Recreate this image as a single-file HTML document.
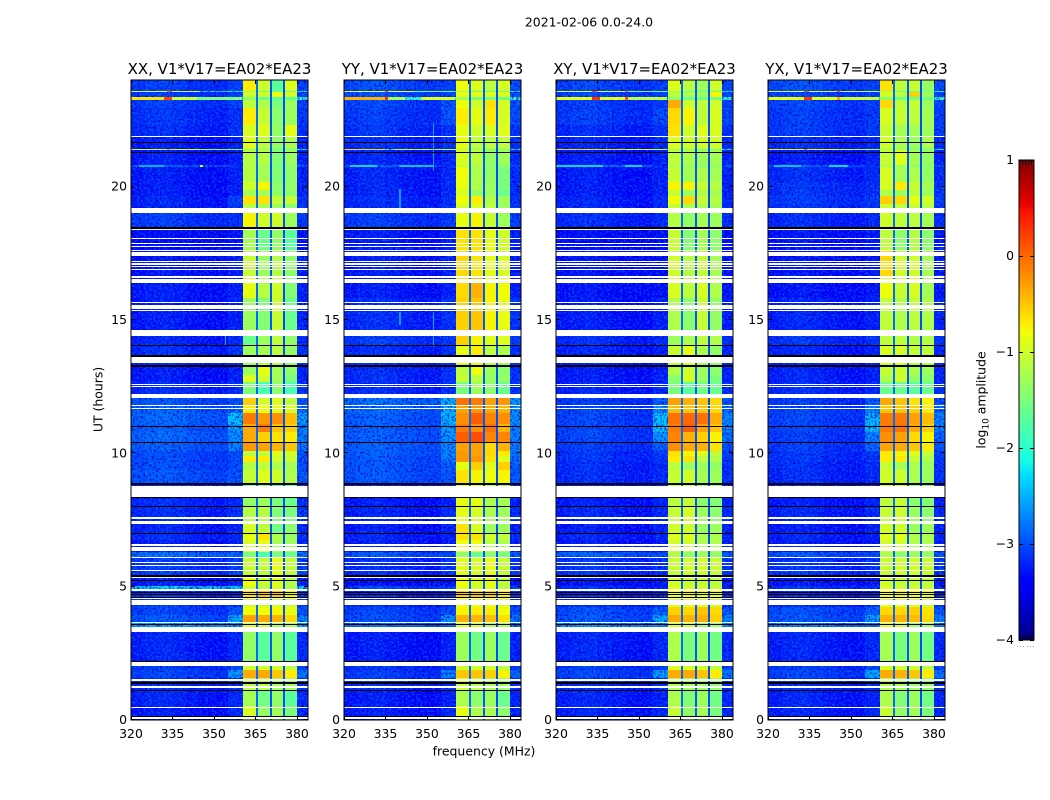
<!DOCTYPE html>
<html lang="en">
<head>
<meta charset="utf-8">
<title>2021-02-06 dynamic spectra</title>
<style>
html,body{margin:0;padding:0;background:#fff}
svg{display:block}
text{font-family:"DejaVu Sans","Liberation Sans",sans-serif;fill:#000}
</style>
</head>
<body>
<svg id="figure" xmlns="http://www.w3.org/2000/svg" width="1050" height="800" viewBox="0 0 1050 800">
  <defs>
    <filter id="speck-dark" x="0" y="0" width="1" height="1" color-interpolation-filters="sRGB">
      <feTurbulence type="fractalNoise" baseFrequency="0.48" numOctaves="2" seed="3"/>
      <feColorMatrix type="matrix" values="0 0 0 0 0  0 0 0 0 0  0 0 0 0 0.8  -8 0 0 0 3.9"/>
    </filter>
    <filter id="speck-light" x="0" y="0" width="1" height="1" color-interpolation-filters="sRGB">
      <feTurbulence type="fractalNoise" baseFrequency="0.48" numOctaves="2" seed="11"/>
      <feColorMatrix type="matrix" values="0 0 0 0 0  0 0 0 0 0.5  0 0 0 0 1  8 0 0 0 -4.1"/>
    </filter>
  </defs>
  <text x="589" y="26.5" font-size="12.45" text-anchor="middle">2021-02-06 0.0-24.0</text>
  <text x="484" y="755.5" font-size="12.45" text-anchor="middle">frequency (MHz)</text>
  <text x="0" y="0" font-size="12.45" text-anchor="middle" transform="translate(102.5,399.5) rotate(-90)">UT (hours)</text>
  <text x="0" y="0" font-size="12.45" text-anchor="middle" transform="translate(985.5,400) rotate(-90)">log<tspan font-size="9" dy="3">10</tspan><tspan dy="-3"> amplitude</tspan></text>
  <g id="panels"></g>
  <g id="colorbar"></g>
</svg>
<script>
// ---- axes ----
const xTickLabels = [320, 335, 350, 365, 380];
const yTickLabels = [0, 5, 10, 15, 20];
const colorbarTicks = [1, 0, -1, -2, -3, -4];
const colorbarMinorTicks = [0.15, 0.35, 0.55, 0.75];

// ---- heatmap frequency bins (MHz) ----
const freqEdges = [320,325,330,335,340,345,350,355,360.6,365.1,365.9,370.2,370.9,374.8,375.6,379.9,384];
const lowProfile = [-0.12,-0.06,-0.03,-0.08,-0.14,-0.18,-0.2];
const nearBandOffset = -0.15;
const gapLevels = [-2.85,-2.95,-3.0];

// ---- heatmap time rows (UT hours, top to bottom) ----
const utEdges = [24,23.59,23.55,23.36,23.25,22.95,22.31,21.90,21.41,21.38,20.81,20.74,20.18,19.88,19.65,19.35,19.01,18.45,17.63,16.61,15.83,14.63,14.06,13.35,12.94,12.68,12.08,11.81,11.51,11.10,10.80,10.43,10.09,9.90,9.68,9.38,8.85,8.03,7.35,7.01,6.75,6.30,6.08,5.44,5.03,4.91,4.54,4.24,3.94,3.68,3.30,2.18,1.88,1.58,1.13,0.53,0];

// per row: [background, near-band, band1, band2, band3, band4] in log10 amplitude
const xxLevels = [
[-3.0,-2.9,-0.7,-1.0,-1.7,-0.9],[-2.0,-2.0,-1.3,-1.6,-1.6,-1.6],[-3.0,-2.9,-1.0,-1.0,-0.8,-0.95],[-1.9,-1.8,-1.4,-1.6,-1.7,-1.7],
[-3.0,-2.9,-1.1,-1.2,-1.5,-1.3],[-3.05,-3,-0.7,-1.05,-1.4,-1.3],[-3.1,-3,-0.95,-0.9,-1.35,-0.85],[-3.2,-3.1,-0.9,-1.1,-1.35,-1.2],
[-1.9,-1.9,-1.4,-1.4,-1.6,-1.6],[-3.2,-3.1,-1.15,-1.15,-1.45,-1.3],[-2.8,-3,-1.2,-1.3,-1.5,-1.4],[-3.2,-3.1,-1.15,-1.25,-1.45,-1.4],
[-3.2,-3.1,-1.0,-0.75,-1.4,-1.35],[-3.2,-3.1,-1.25,-1.25,-1.35,-1.4],[-3.15,-2.9,-0.65,-0.65,-1.05,-1.05],[-3.15,-3,-1.1,-1.25,-1.3,-1.4],
[-3.0,-3.0,-0.75,-1.0,-1.0,-1.3],[-3.3,-3.2,-1.25,-1.6,-1.35,-1.7],[-3.25,-3.1,-1.05,-1.3,-1.15,-1.4],[-3.2,-3.1,-0.85,-1.15,-1.0,-1.45],
[-3.2,-3.1,-1.3,-1.45,-1.05,-1.6],[-3.15,-3.05,-1.6,-1.3,-1.1,-1.35],[-3.1,-3.0,-1.3,-1.25,-1.1,-1.35],[-3.2,-3.1,-1.3,-0.85,-1.25,-1.4],
[-3.2,-3.1,-0.9,-1.0,-1.25,-1.5],[-3.1,-3.0,-1.5,-1.8,-1.4,-1.8],[-2.85,-2.8,-0.55,-0.95,-0.9,-1.1],[-2.8,-2.7,-0.7,-0.85,-0.85,-0.95],
[-2.75,-2.2,-0.1,-0.25,-0.2,-0.45],[-2.8,-2.4,-0.35,-0.1,-0.5,-0.55],[-2.75,-2.5,-0.35,-0.55,-0.65,-0.7],[-2.8,-2.55,-0.25,-0.3,-0.4,-0.5],
[-2.9,-2.85,-1.1,-1.1,-0.9,-0.95],[-2.9,-2.85,-0.7,-0.7,-1.0,-1.05],[-2.9,-2.85,-1.15,-1.1,-1.2,-1.25],[-2.85,-2.8,-1.05,-0.9,-1.0,-1.2],
[-3.1,-3.05,-1.35,-1.3,-1.5,-1.6],[-3.1,-3,-1.15,-1.15,-1.45,-1.5],[-3.15,-3.1,-0.95,-1.1,-1.55,-1.4],[-3.1,-3.05,-0.85,-0.65,-1.2,-1.3],
[-3.2,-3.1,-0.95,-0.85,-1.25,-1.3],[-2.7,-2.7,-1.5,-1.8,-1.5,-1.6],[-3.0,-2.9,-1.05,-1.1,-0.85,-1.1],[-3.2,-3.1,-0.8,-1.05,-0.9,-1.15],
[-2.2,-2.2,-1.0,-1.1,-0.9,-1.2],[-3.05,-3,-0.65,-0.5,-0.5,-0.75],[-3,-3,-1,-1,-1,-1],[-2.95,-2.8,-0.8,-0.8,-0.75,-0.85],
[-2.85,-2.35,-0.3,-0.35,-0.4,-0.6],[-2.4,-2.4,-0.9,-1,-1.2,-1.2],[-3.15,-3.05,-1.35,-1.7,-1.35,-1.7],[-3.0,-2.9,-1,-1,-1,-1.1],
[-2.95,-2.4,-0.35,-0.35,-0.5,-0.7],[-3.1,-3,-1.1,-1.15,-1.25,-1.3],[-3.15,-3.05,-1.25,-1.55,-1.35,-1.7],[-3.2,-3.05,-0.95,-1.35,-1.25,-1.5]
];
const yyLevels = [
[-2.9,-2.9,-0.8,-0.9,-1.1,-0.95],[-1.9,-1.9,-1.3,-1.6,-1.6,-1.6],[-2.9,-2.9,-0.85,-0.85,-0.9,-0.9],[-1.8,-1.8,-1.3,-1.5,-1.6,-1.6],
[-2.95,-2.8,-0.8,-1.0,-0.65,-0.95],[-3,-2.8,-0.7,-0.85,-0.7,-0.95],[-3.05,-3,-0.85,-1.0,-0.95,-0.9],[-3.1,-3.0,-0.85,-1.1,-1.1,-1.1],
[-1.9,-1.9,-1.3,-1.4,-1.5,-1.5],[-3.15,-3.05,-0.95,-1.1,-1.35,-1.3],[-2.8,-3,-1.1,-1.2,-1.4,-1.4],[-3.15,-3.05,-0.8,-1.2,-1.35,-1.5],
[-3.15,-3.05,-0.85,-1.2,-1.3,-1.5],[-3.15,-3.05,-0.95,-1.35,-1.3,-1.6],[-3.1,-3,-0.8,-0.7,-1.15,-1.3],[-3.1,-3,-0.95,-0.9,-1.1,-1.3],
[-3.0,-2.95,-0.85,-0.75,-1.05,-1.3],[-3.2,-3.1,-0.65,-0.65,-0.85,-1.0],[-3.2,-3.1,-0.6,-0.65,-0.85,-0.95],[-3.2,-3.1,-0.6,-0.4,-0.75,-0.8],
[-3.1,-3.0,-0.55,-0.5,-0.75,-0.85],[-3.0,-2.95,-0.55,-0.75,-0.9,-0.9],[-3.1,-3.0,-0.85,-0.7,-1.1,-1.2],[-3.1,-3,-1.1,-0.8,-1.3,-1.4],
[-3.1,-3,-1.05,-1.1,-1.35,-1.35],[-3.1,-3,-1.5,-1.3,-1.4,-1.6],[-2.7,-2.3,-0.05,-0.1,-0.3,-0.25],[-2.75,-2.3,-0.3,-0.25,-0.35,-0.4],
[-2.8,-2.3,-0.2,0.05,-0.15,-0.2],[-2.8,-2.4,-0.1,-0.2,-0.05,-0.4],[-2.8,-2.45,0.05,0.15,-0.15,-0.15],[-2.8,-2.5,-0.3,-0.3,-0.6,-0.4],
[-2.8,-2.55,-0.25,-0.3,-0.6,-0.7],[-2.85,-2.6,-0.25,-0.25,-0.65,-0.9],[-2.85,-2.75,-0.85,-0.55,-0.9,-0.55],[-2.85,-2.8,-0.65,-0.75,-0.8,-0.75],
[-3.2,-3.1,-0.85,-0.85,-1.2,-1.25],[-3.15,-3.05,-0.85,-0.95,-1.2,-1.3],[-3.2,-3.1,-0.65,-0.95,-1.3,-1.3],[-3.15,-3.1,-0.65,-0.65,-1,-1.1],
[-3.2,-3.15,-0.8,-0.8,-1.1,-1.2],[-2.85,-2.85,-1.35,-1.6,-1.4,-1.5],[-3.1,-3,-0.9,-0.95,-0.85,-1.05],[-3.3,-3.2,-0.8,-0.95,-0.85,-1.1],
[-2.95,-2.95,-0.85,-1.0,-0.9,-1.1],[-3.1,-3,-0.55,-0.5,-0.55,-0.7],[-3.1,-3,-0.8,-0.8,-0.8,-0.9],[-2.95,-2.85,-0.75,-0.7,-0.7,-0.8],
[-2.9,-2.5,-0.4,-0.4,-0.45,-0.65],[-2.7,-2.7,-0.9,-1,-1.2,-1.2],[-3.2,-3.1,-1.3,-1.55,-1.3,-1.6],[-3.05,-3,-1,-1,-1,-1.1],
[-3,-2.55,-0.5,-0.5,-0.55,-0.75],[-3.1,-3,-1,-1.1,-1.2,-1.3],[-3.2,-3.1,-1.2,-1.4,-1.3,-1.6],[-3.2,-3.05,-0.85,-1.2,-1.2,-1.4]
];
const xyLevels = [
[-2.95,-2.9,-0.9,-1.1,-1.3,-1.0],[-1.9,-1.9,-1.3,-1.6,-1.6,-1.6],[-2.95,-2.9,-1.1,-1.2,-1.3,-0.75],[-1.8,-1.8,-1.4,-1.6,-1.6,-1.6],
[-3,-2.95,-0.35,-1.0,-1.1,-1.0],[-3,-2.85,-0.6,-0.75,-1.1,-0.95],[-3.1,-3,-0.65,-1,-0.9,-0.95],[-3.15,-3.05,-0.9,-1,-1,-1],
[-1.9,-1.9,-1.4,-1.4,-1.6,-1.6],[-3.2,-3.1,-1.1,-1.2,-1.3,-1.25],[-2.7,-3,-1.2,-1.3,-1.4,-1.4],[-3.2,-3.1,-1.05,-1.25,-1.2,-1.25],
[-3.2,-3.1,-0.75,-0.75,-1.05,-1.15],[-3.2,-3.1,-1.05,-1.3,-1.15,-1.25],[-3.15,-3.05,-0.8,-0.6,-1.05,-1.15],[-3.15,-3.05,-1.05,-1.2,-1.2,-1.25],
[-3.1,-3.05,-1.15,-1.35,-1.25,-1.3],[-3.3,-3.2,-1.05,-1.45,-1.25,-1.4],[-3.25,-3.2,-1.0,-1.15,-1.05,-1.25],[-3.25,-3.2,-0.95,-1.1,-0.95,-1.2],
[-3.2,-3.1,-1.2,-1.4,-1.05,-1.35],[-3.1,-3.05,-1.3,-1.2,-1.1,-1.2],[-3.15,-3.1,-1.05,-0.85,-1.2,-1.35],[-3.2,-3.1,-1.15,-1,-1.3,-1.4],
[-3.2,-3.1,-1.4,-0.95,-1.3,-1.5],[-3.15,-3.05,-1.5,-1.7,-1.55,-1.6],[-3,-2.75,-0.3,-0.4,-0.5,-0.6],[-2.95,-2.5,-0.45,-0.5,-0.5,-0.6],
[-2.95,-2.2,-0.05,0.0,-0.05,-0.35],[-2.95,-2.2,-0.1,0.05,-0.3,-0.5],[-2.95,-2.45,-0.15,-0.4,-0.55,-0.75],[-3,-2.75,-0.2,-0.35,-0.4,-0.65],
[-3.05,-2.95,-0.65,-0.75,-0.9,-1.1],[-3.05,-3,-0.7,-0.65,-1.1,-1.2],[-3.1,-3.05,-1.1,-1.3,-1.3,-1.35],[-3.1,-3.05,-1.05,-1.0,-1.25,-1.3],
[-3.2,-3.1,-1.1,-1.05,-1.4,-1.45],[-3.15,-3.05,-1.05,-0.95,-1.3,-1.4],[-3.2,-3.1,-1,-1,-1.3,-1.3],[-3.15,-3.1,-0.9,-0.9,-1.2,-1.2],
[-3.2,-3.15,-1,-1,-1.2,-1.2],[-2.8,-2.85,-1.15,-1.35,-1.3,-1.35],[-3.05,-3,-1.05,-1,-1,-1.05],[-3.25,-3.15,-1,-1.05,-1.05,-1.1],
[-3.1,-3.1,-0.85,-0.95,-0.95,-1.05],[-3.1,-3.05,-0.8,-0.75,-0.8,-0.85],[-3.1,-3,-0.9,-0.9,-0.9,-1],[-2.9,-2.75,-0.55,-0.6,-0.5,-0.6],
[-2.85,-2.35,-0.35,-0.4,-0.4,-0.55],[-2.5,-2.5,-0.9,-1.0,-1.3,-1.3],[-3.15,-3.05,-1.2,-1.5,-1.3,-1.55],[-3,-2.9,-0.9,-0.95,-1,-1.1],
[-2.95,-2.4,-0.35,-0.35,-0.5,-0.7],[-3.1,-3,-1.15,-1.25,-1.3,-1.35],[-3.15,-3.1,-1.2,-1.45,-1.3,-1.55],[-3.15,-3.05,-1.05,-1.35,-1.25,-1.5]
];
const yxLevels = [
[-2.9,-2.9,-0.65,-1.1,-1.05,-1.35],[-1.9,-1.9,-1.3,-1.6,-1.6,-1.6],[-2.95,-2.9,-0.95,-1.1,-0.55,-1.3],[-1.8,-1.8,-1.4,-1.6,-1.6,-1.6],
[-2.95,-2.9,-0.6,-1.1,-1.05,-1.3],[-3,-2.95,-0.95,-1.05,-1.1,-1.25],[-3,-2.95,-1.05,-1.25,-1.25,-1.3],[-3.1,-3.05,-1,-1.2,-1.3,-1.2],
[-1.9,-1.9,-1.4,-1.4,-1.6,-1.6],[-3.2,-3.1,-1.05,-0.9,-1.25,-1.35],[-2.8,-3,-1.2,-1.3,-1.4,-1.4],[-3.1,-3.05,-0.95,-1.25,-1.2,-1.35],
[-3.05,-3,-0.95,-0.7,-1.05,-1.25],[-3.05,-3,-1.2,-1.3,-1.1,-1.3],[-3,-2.95,-0.55,-0.6,-0.85,-1.0],[-3.05,-3,-1.0,-1.1,-1.05,-1.15],
[-3.1,-3.05,-1,-1.1,-1.1,-1.25],[-3.25,-3.15,-1.1,-1.4,-1.15,-1.4],[-3.25,-3.15,-0.6,-1.0,-1.0,-1.25],[-3.25,-3.15,-0.8,-1.05,-0.95,-1.25],
[-3.15,-3.1,-1.1,-1.2,-1.1,-1.2],[-3.05,-3,-1.1,-1.1,-1.15,-1.15],[-3.15,-3.1,-0.95,-0.95,-1.05,-1.1],[-3.15,-3.1,-1.05,-1,-1.2,-1.3],
[-3.15,-3.1,-1.2,-1,-1.35,-1.4],[-3.1,-3.05,-1.6,-1.6,-1.7,-1.6],[-3,-2.75,-0.35,-0.5,-0.65,-0.75],[-2.95,-2.55,-0.5,-0.5,-0.55,-0.7],
[-2.95,-2.3,-0.1,-0.1,-0.3,-0.45],[-2.95,-2.25,-0.1,-0.05,-0.35,-0.55],[-3,-2.55,-0.2,-0.3,-0.6,-0.75],[-3,-2.7,-0.3,-0.35,-0.5,-0.7],
[-3.05,-2.95,-0.7,-0.75,-0.9,-1.1],[-3.05,-3,-0.7,-0.7,-1.05,-1.2],[-3.1,-3.05,-1.05,-1.25,-1.2,-1.3],[-3.1,-3.05,-1.0,-1.0,-1.2,-1.3],
[-3.2,-3.1,-1.1,-1.05,-1.4,-1.45],[-3.15,-3.05,-1.05,-1.0,-1.3,-1.4],[-3.2,-3.1,-1,-1,-1.3,-1.3],[-3.15,-3.1,-0.9,-0.9,-1.15,-1.2],
[-3.2,-3.15,-1,-1,-1.2,-1.2],[-2.85,-2.85,-1.2,-1.4,-1.3,-1.35],[-3.05,-3,-1.05,-1,-1,-1.05],[-3.25,-3.15,-1,-1.05,-1.05,-1.1],
[-3.05,-3.05,-0.9,-1,-0.95,-1.05],[-3.1,-3.05,-0.8,-0.75,-0.8,-0.85],[-3.1,-3,-0.9,-0.9,-0.9,-1],[-2.9,-2.75,-0.6,-0.6,-0.55,-0.65],
[-2.85,-2.4,-0.4,-0.4,-0.45,-0.6],[-2.6,-2.6,-0.9,-1.0,-1.3,-1.3],[-3.15,-3.05,-1.25,-1.5,-1.3,-1.55],[-3,-2.9,-0.95,-1,-1,-1.1],
[-2.95,-2.35,-0.35,-0.4,-0.5,-0.7],[-3.1,-3,-1.15,-1.25,-1.3,-1.35],[-3.15,-3.1,-1.2,-1.45,-1.3,-1.55],[-3.15,-3.05,-1.05,-1.35,-1.25,-1.5]
];

// interference streaks: [ut top, ut bottom, freq start, freq end, level]
const xxInterference = [
[23.59,23.55,320,345,-1.0],[23.59,23.55,333,335,0.1],[23.36,23.25,320,332,-0.65],[23.36,23.25,332,335,0.2],[23.36,23.25,335,344,-1.0],[23.36,23.25,352,353,0.0],[23.36,23.25,344,360,-1.5],
[21.41,21.38,320,345,-0.9],[21.41,21.38,333,334,-0.2],[21.41,21.38,345,360,-1.4],[20.81,20.74,323,332,-2.5],[20.81,20.74,345,346,-1.0],[14.63,14.06,354,354.5,-2.5]
];
const yyInterference = [
[23.59,23.55,320,345,-0.8],[23.59,23.55,335,336,0.2],[23.59,23.55,345,360,-1.6],[23.36,23.25,320,335,-0.4],[23.36,23.25,335,336,0.3],[23.36,23.25,336,342,-1.2],[23.36,23.25,348,360,-0.9],
[21.41,21.38,320,335,-0.6],[21.41,21.38,338,361,-1.0],[20.81,20.74,322,332,-2.3],[20.81,20.74,340,352,-2.4],
[19.9,19.2,340,340.5,-2.6],[22.4,20.6,352,352.5,-2.6],[15.3,14.8,340,340.5,-2.6],[15.3,14.0,352,352.5,-2.6]
];
const xyInterference = [
[23.59,23.55,320,345,-0.9],[23.59,23.55,333,335,0.2],[23.59,23.55,345,346,0.0],[23.59,23.55,346,360,-1.6],[23.36,23.25,320,345,-0.85],[23.36,23.25,333,336,0.3],[23.36,23.25,345,346,0.1],[23.36,23.25,346,360,-1.1],
[21.41,21.38,320,345,-0.6],[21.41,21.38,345,360,-0.9],[20.81,20.74,320,337,-2.3],[20.81,20.74,345,351,-2.3]
];
const yxInterference = [
[23.59,23.55,320,345,-0.9],[23.59,23.55,333,335,0.2],[23.59,23.55,345,346,0.1],[23.59,23.55,346,360,-1.0],[23.36,23.25,320,345,-0.85],[23.36,23.25,333,336,0.25],[23.36,23.25,345,346,-0.3],[23.36,23.25,346,360,-1.0],
[21.41,21.38,320,345,-0.75],[21.41,21.38,333,334,0.1],[21.41,21.38,345,360,-1.1],[20.81,20.74,322,332,-2.4],[20.81,20.74,342,349,-2.3]
];

// flagged time ranges [ut top, ut bottom]
const maskedRanges = [
[21.90,21.86],[21.69,21.66],[19.20,19.01],[18.43,18.38],[18.09,18.06],[17.89,17.85],[17.79,17.76],[17.64,17.57],[17.55,17.40],[17.23,17.19],[17.12,17.08],[17.01,16.97],[16.91,16.88],[16.65,16.58],[16.54,16.37],[15.69,15.66],[15.58,15.54],[15.51,15.41],[15.38,15.34],[14.63,14.41],[13.61,13.39],[12.60,12.56],[12.53,12.49],[12.23,12.06],[11.81,11.78],[11.70,11.66],[8.79,8.36],[7.61,7.54],[7.48,7.35],[6.59,6.53],[6.50,6.35],[6.11,6.06],[5.91,5.87],[5.83,5.79],[5.61,5.59],[5.36,5.33],[4.91,4.84],[4.56,4.54],[4.51,4.31],[3.68,3.63],[3.50,3.30],[2.19,2.03],[1.53,1.46],[1.28,1.20],[0.49,0.45],[0.11,0.04]
];
const deadRanges = [
[21.66,21.64],[21.30,21.26],[18.47,18.43],[14.06,14.03],[13.67,13.63],[13.33,13.22],[11.03,10.99],[10.43,10.39],[8.87,8.83],[8.36,8.33],[8.01,7.97],[7.01,6.98],[5.42,5.38],[5.25,5.21],[4.80,4.76],[4.73,4.69],[4.61,4.58],[3.60,3.56],[2.23,2.19],[1.43,1.35],[1.11,1.07],[0.15,0.11]
];

const panelTitles = ['XX, V1*V17=EA02*EA23','YY, V1*V17=EA02*EA23','XY, V1*V17=EA02*EA23','YX, V1*V17=EA02*EA23'];
const panelLefts = [131,344,556,768];
const panelLevels = [xxLevels,yyLevels,xyLevels,yxLevels];
const panelInterference = [xxInterference,yyInterference,xyInterference,yxInterference];

const NS = 'http://www.w3.org/2000/svg';
const plotWidth = 177, plotTop = 80, plotBottom = 720;
const fMin = 320, fMax = 384, utMin = 0, utMax = 24;
const cbLeft = 1019, cbRight = 1034, cbTop = 160, cbBottom = 640, cbMin = -4, cbMax = 1;

function xScale(f, left){ return left + (f - fMin) / (fMax - fMin) * plotWidth; }
function yScale(ut){ return plotBottom - (ut - utMin) / (utMax - utMin) * (plotBottom - plotTop); }
function cbScale(v){ return cbBottom - (v - cbMin) / (cbMax - cbMin) * (cbBottom - cbTop); }

function lerp(t, pts){
  for (let i = 1; i < pts.length; i++) {
    if (t <= pts[i][0]) {
      const a = pts[i-1], b = pts[i];
      return a[1] + (b[1] - a[1]) * (t - a[0]) / (b[0] - a[0]);
    }
  }
  return pts[pts.length-1][1];
}
const jetR = [[0,0],[0.35,0],[0.66,1],[0.89,1],[1,0.5]];
const jetG = [[0,0],[0.125,0],[0.375,1],[0.64,1],[0.91,0],[1,0]];
const jetB = [[0,0.5],[0.11,1],[0.34,1],[0.65,0],[1,0]];
function jet(level){
  const t = Math.max(0, Math.min(1, (level - cbMin) / (cbMax - cbMin)));
  const c = [lerp(t, jetR), lerp(t, jetG), lerp(t, jetB)].map(v => Math.round(v * 255));
  return 'rgb(' + c.join(',') + ')';
}
function svgEl(tag, parent){
  const el = document.createElementNS(NS, tag);
  parent.appendChild(el);
  return el;
}
function rect(el, x0, y0, x1, y1, fill){
  const px0 = Math.round(x0);
  const py0 = Math.round(y0);
  const px1 = Math.max(Math.round(x1), px0 + 1);
  const py1 = Math.max(Math.round(y1), py0 + 1);
  el.setAttribute('x', px0);
  el.setAttribute('y', py0);
  el.setAttribute('width', px1 - px0);
  el.setAttribute('height', py1 - py0);
  el.setAttribute('fill', fill);
  el.setAttribute('shape-rendering', 'crispEdges');
}
function line(el, x1, y1, x2, y2, stroke){
  el.setAttribute('x1', x1);
  el.setAttribute('y1', y1);
  el.setAttribute('x2', x2);
  el.setAttribute('y2', y2);
  el.setAttribute('stroke', stroke);
  el.setAttribute('stroke-width', '1');
}
function cellLevel(row, col){
  if (col <= 6) return row[0] + lowProfile[col];
  if (col === 7) return row[1] + nearBandOffset;
  if (col === 8) return row[2];
  if (col === 9) return gapLevels[0];
  if (col === 10) return row[3];
  if (col === 11) return gapLevels[1];
  if (col === 12) return row[4];
  if (col === 13) return gapLevels[2];
  if (col === 14) return row[5];
  return (row[0] + row[1]) / 2 - 0.1;
}

const panelsRoot = document.getElementById('panels');
panelTitles.forEach(function(title, p){
  const left = panelLefts[p];
  const right = left + plotWidth;
  const g = svgEl('g', panelsRoot);
  
  

  // heatmap cells
  panelLevels[p].forEach(function(row, r){
    for (let c = 0; c < freqEdges.length - 1; c++) {
      const cell = svgEl('rect', g);
      
      
      rect(cell, xScale(freqEdges[c], left), yScale(utEdges[r]), xScale(freqEdges[c+1], left), yScale(utEdges[r+1]), jet(cellLevel(row, c)));
    }
  });

  // purely visual grain over the noise-floor regions
  [[freqEdges[0], freqEdges[8]], [freqEdges[15], freqEdges[16]]].forEach(function(range){
    const dark = svgEl('rect', g);
    
    
    rect(dark, xScale(range[0], left), plotTop, xScale(range[1], left), plotBottom, '#000');
    dark.setAttribute('filter', 'url(#speck-dark)');
    dark.setAttribute('opacity', '0.7');
    const light = svgEl('rect', g);
    
    
    rect(light, xScale(range[0], left), plotTop, xScale(range[1], left), plotBottom, '#000');
    light.setAttribute('filter', 'url(#speck-light)');
    light.setAttribute('opacity', '0.45');
  });

  // interference streaks
  panelInterference[p].forEach(function(s){
    const streak = svgEl('rect', g);
    
    
    rect(streak, xScale(s[2], left), yScale(s[0]), xScale(s[3], left), yScale(s[1]), jet(s[4]));
  });

  // flagged rows
  maskedRanges.forEach(function(m){
    const band = svgEl('rect', g);
    
    
    rect(band, left, yScale(m[0]), right, yScale(m[1]), '#fff');
  });
  deadRanges.forEach(function(m){
    const band = svgEl('rect', g);
    
    
    rect(band, left, yScale(m[0]), right, yScale(m[1]), '#000');
  });

  // frame
  const frame = svgEl('rect', g);
  
  
  frame.setAttribute('x', left);
  frame.setAttribute('y', plotTop);
  frame.setAttribute('width', plotWidth);
  frame.setAttribute('height', plotBottom - plotTop);
  frame.setAttribute('fill', 'none');
  frame.setAttribute('stroke', '#000');
  frame.setAttribute('stroke-width', '1');

  // x ticks
  xTickLabels.forEach(function(v){
    const x = Math.round(xScale(v, left)) + 0.5;
    const tickB = svgEl('line', g);
    
    
    line(tickB, x, plotBottom, x, plotBottom - 4, '#000');
    const tickT = svgEl('line', g);
    
    
    line(tickT, x, plotTop, x, plotTop + 4, '#000');
    const label = svgEl('text', g);
    
    
    label.setAttribute('x', xScale(v, left));
    label.setAttribute('y', 738);
    label.setAttribute('font-size', '12.45');
    label.setAttribute('text-anchor', 'middle');
    label.textContent = v;
  });

  // y ticks
  yTickLabels.forEach(function(v){
    const y = Math.round(yScale(v)) - 0.5;
    const tickL = svgEl('line', g);
    
    
    line(tickL, left, y, left + 4, y, '#000');
    const tickR = svgEl('line', g);
    
    
    line(tickR, right, y, right - 4, y, '#000');
    const label = svgEl('text', g);
    
    
    label.setAttribute('x', left - 4);
    label.setAttribute('y', yScale(v) + 4);
    label.setAttribute('font-size', '12.45');
    label.setAttribute('text-anchor', 'end');
    label.textContent = v;
  });

  const t = svgEl('text', g);
  
  
  t.setAttribute('x', left + plotWidth / 2);
  t.setAttribute('y', 74);
  t.setAttribute('font-size', '14.95');
  t.setAttribute('text-anchor', 'middle');
  t.textContent = title;
});

// colorbar
const cbRoot = document.getElementById('colorbar');
for (let py = cbTop; py < cbBottom; py += 2) {
  const level = cbMax - (py + 1 - cbTop) / (cbBottom - cbTop) * (cbMax - cbMin);
  const seg = svgEl('rect', cbRoot);
  
  
  rect(seg, cbLeft, py, cbRight, py + 2, jet(level));
}
const cbFrame = svgEl('rect', cbRoot);


cbFrame.setAttribute('x', cbLeft);
cbFrame.setAttribute('y', cbTop);
cbFrame.setAttribute('width', cbRight - cbLeft);
cbFrame.setAttribute('height', cbBottom - cbTop);
cbFrame.setAttribute('fill', 'none');
cbFrame.setAttribute('stroke', '#000');
cbFrame.setAttribute('stroke-width', '1');
colorbarTicks.forEach(function(v){
  const y = Math.round(cbScale(v)) + 0.5;
  const l = svgEl('line', cbRoot);
  
  
  line(l, cbLeft, y, cbLeft + 4, y, '#000');
  const r = svgEl('line', cbRoot);
  
  
  line(r, cbRight, y, cbRight - 4, y, '#000');
  const label = svgEl('text', cbRoot);
  
  
  label.setAttribute('x', cbLeft - 5);
  label.setAttribute('y', cbScale(v) + 4);
  label.setAttribute('font-size', '12.45');
  label.setAttribute('text-anchor', 'end');
  label.textContent = (v < 0 ? '\u2212' + Math.abs(v) : String(v));
});
colorbarMinorTicks.forEach(function(frac){
  const x = Math.round(cbLeft + frac * (cbRight - cbLeft) + 0.6) + 0.5;
  const top = svgEl('line', cbRoot);
  
  
  line(top, x, cbTop, x, cbTop + 5, '#000');
  const bottom = svgEl('line', cbRoot);
  
  
  line(bottom, x, cbBottom, x, cbBottom - 5, '#000');
});
for (let i = 0; i < 6; i++) {
  const dot = svgEl('rect', cbRoot);
  
  
  rect(dot, 1017 + i * 3.2, 646, 1018 + i * 3.2, 647, '#999');
}
</script>
</body>
</html>
